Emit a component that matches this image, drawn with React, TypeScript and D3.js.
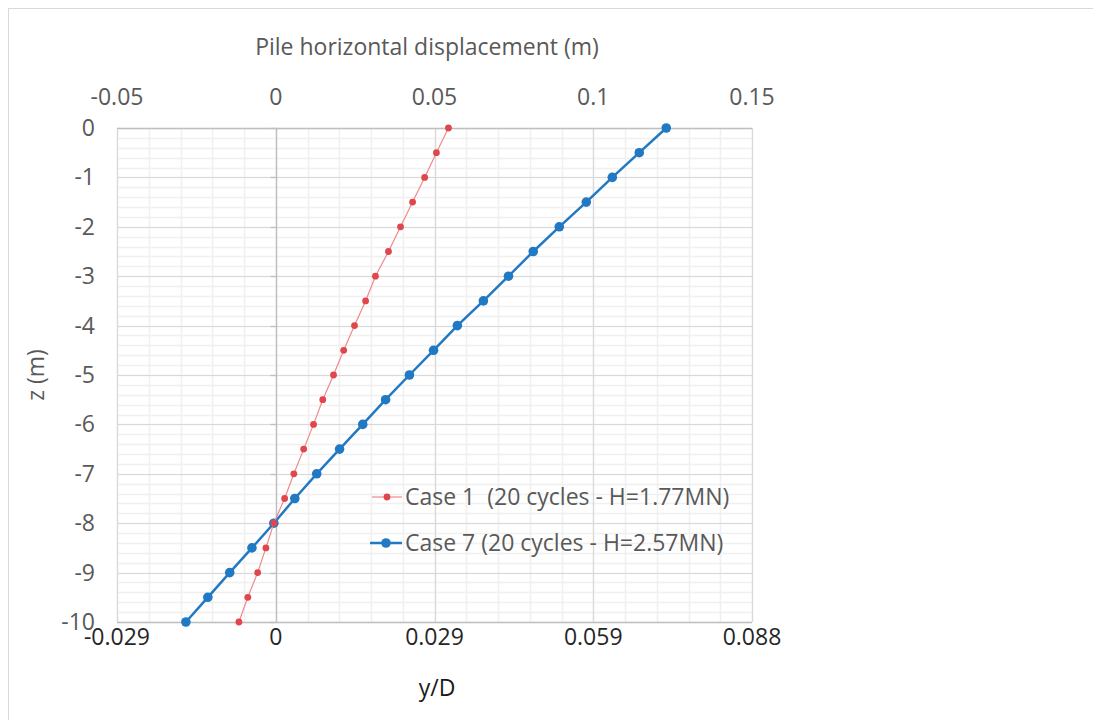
import { useEffect, useRef } from 'react'
import * as d3 from 'd3'

// depth below seabed (m)
const depths = [0, -0.5, -1, -1.5, -2, -2.5, -3, -3.5, -4, -4.5, -5, -5.5, -6, -6.5, -7, -7.5, -8, -8.5, -9, -9.5, -10]

// pile horizontal displacement (m)
const case1Disp = [0.0544, 0.0506, 0.0469, 0.0431, 0.0393, 0.0355, 0.0314, 0.0283, 0.0248, 0.0214, 0.0182,
    0.0148, 0.0119, 0.0088, 0.0057, 0.0028, -0.0006, -0.0031, -0.0057, -0.0088, -0.0116]
const case7Disp = [0.1230, 0.1145, 0.1060, 0.0978, 0.0893, 0.0811, 0.0733, 0.0654, 0.0572, 0.0497, 0.0421,
    0.0346, 0.0274, 0.0201, 0.0129, 0.0060, -0.0006, -0.0075, -0.0145, -0.0214, -0.0283]

const seriesNames = ['Case 1  (20 cycles - H=1.77MN)', 'Case 7 (20 cycles - H=2.57MN)']

const topTicks = [-0.05, 0, 0.05, 0.1, 0.15]
const depthTicks = [0, -1, -2, -3, -4, -5, -6, -7, -8, -9, -10]
const pileDiameter = 1.7

// excel style: plain hyphen for negatives
const fmt = (spec: string) => (v: number) => d3.format(spec)(v).replace('\u2212', '-')

export default function App() {
    const svgRef = useRef<SVGSVGElement>(null)

    useEffect(() => {
        if (!svgRef.current) return
        const svg = d3.select(svgRef.current)
        svg.selectAll('*').remove()

        const width = 1093
        const height = 720
        const margin = { top: 128, right: 341, bottom: 98, left: 117 }
        const font = '"Open Sans", Lato, sans-serif'
        const fs = '23px'

        svg.attr('width', width).attr('height', height)

        svg.append('rect').attr('width', width).attr('height', height).attr('fill', '#fff')
        // outer chart frame (right and bottom edges fall outside the picture)
        svg.append('rect')
            .attr('x', 8.5).attr('y', 8.5)
            .attr('width', width + 20).attr('height', height + 20)
            .attr('fill', 'none').attr('stroke', '#d9d9d9')

        const x = d3.scaleLinear()
            .domain([-0.05, 0.15])
            .range([margin.left, width - margin.right])
        const xD = d3.scaleLinear()
            .domain([-0.05 / pileDiameter, 0.15 / pileDiameter])
            .range([margin.left, width - margin.right])
        const y = d3.scaleLinear()
            .domain([-10, 0])
            .range([height - margin.bottom, margin.top])

        const grid = svg.append('g')
        // minor grid
        const minorX = d3.range(-0.05, 0.1501, 0.01).map(v => +v.toFixed(3))
        const minorY = d3.range(-10, 0.001, 0.2).map(v => +v.toFixed(2))
        grid.selectAll('.minor-x')
            .data(minorX)
            .enter()
            .append('line')
            .attr('x1', d => Math.round(x(d)) + 0.5)
            .attr('x2', d => Math.round(x(d)) + 0.5)
            .attr('y1', y(0)).attr('y2', y(-10))
            .attr('stroke', '#f0f0f0').attr('stroke-width', 1.5)
        grid.selectAll('.minor-y')
            .data(minorY)
            .enter()
            .append('line')
            .attr('x1', x(-0.05)).attr('x2', x(0.15))
            .attr('y1', d => Math.round(y(d)) + 0.5)
            .attr('y2', d => Math.round(y(d)) + 0.5)
            .attr('stroke', '#f0f0f0').attr('stroke-width', 1.5)
        // major grid
        grid.selectAll('.major-x')
            .data(topTicks)
            .enter()
            .append('line')
            .attr('x1', d => Math.round(x(d)) + 0.5)
            .attr('x2', d => Math.round(x(d)) + 0.5)
            .attr('y1', y(0)).attr('y2', y(-10))
            .attr('stroke', '#d9d9d9').attr('stroke-width', 1.2)
        grid.selectAll('.major-y')
            .data(depthTicks)
            .enter()
            .append('line')
            .attr('x1', x(-0.05)).attr('x2', x(0.15))
            .attr('y1', d => Math.round(y(d)) + 0.5)
            .attr('y2', d => Math.round(y(d)) + 0.5)
            .attr('stroke', '#d9d9d9').attr('stroke-width', 1.2)

        // axis lines: top & bottom horizontal axes, vertical axis crossing at 0
        svg.append('line')
            .attr('x1', x(-0.05)).attr('x2', x(0.15))
            .attr('y1', Math.round(y(0)) + 0.5).attr('y2', Math.round(y(0)) + 0.5)
            .attr('stroke', '#bfbfbf').attr('stroke-width', 1.3)
        svg.append('line')
            .attr('x1', x(-0.05)).attr('x2', x(0.15))
            .attr('y1', Math.round(y(-10)) + 0.5).attr('y2', Math.round(y(-10)) + 0.5)
            .attr('stroke', '#bfbfbf').attr('stroke-width', 1.3)
        const zeroX = Math.round(x(0)) + 0.5
        svg.append('line')
            .attr('x1', zeroX).attr('x2', zeroX)
            .attr('y1', y(0)).attr('y2', y(-10))
            .attr('stroke', '#bfbfbf').attr('stroke-width', 1.3)
        svg.selectAll('.ytick-mark')
            .data(depthTicks)
            .enter()
            .append('line')
            .attr('x1', zeroX - 6).attr('x2', zeroX)
            .attr('y1', d => Math.round(y(d)) + 0.5)
            .attr('y2', d => Math.round(y(d)) + 0.5)
            .attr('stroke', '#bfbfbf').attr('stroke-width', 1.3)

        // top axis labels
        svg.selectAll('.top-label')
            .data(topTicks)
            .enter()
            .append('text')
            .attr('x', d => x(d))
            .attr('y', 105)
            .attr('text-anchor', 'middle')
            .attr('font-family', font)
            .attr('font-size', fs)
            .attr('fill', '#595959')
            .text(d => fmt('~g')(d))

        svg.append('text')
            .attr('x', 427)
            .attr('y', 55)
            .attr('text-anchor', 'middle')
            .attr('font-family', font)
            .attr('font-size', fs)
            .attr('fill', '#595959')
            .text('Pile horizontal displacement (m)')

        // bottom axis (y/D)
        const bottomTicks = topTicks.map(d => d / pileDiameter)
        svg.selectAll('.bottom-label')
            .data(bottomTicks)
            .enter()
            .append('text')
            .attr('x', d => xD(d))
            .attr('y', 645)
            .attr('text-anchor', 'middle')
            .attr('font-family', font)
            .attr('font-size', fs)
            .attr('fill', '#262626')
            .text(d => fmt('.3~f')(d))

        svg.append('text')
            .attr('x', 437)
            .attr('y', 696)
            .attr('text-anchor', 'middle')
            .attr('font-family', font)
            .attr('font-size', fs)
            .attr('fill', '#1a1a1a')
            .text('y/D')

        // left labels
        svg.selectAll('.left-label')
            .data(depthTicks)
            .enter()
            .append('text')
            .attr('x', 95)
            .attr('y', d => y(d) + 8)
            .attr('text-anchor', 'end')
            .attr('font-family', font)
            .attr('font-size', fs)
            .attr('fill', '#595959')
            .text(d => fmt('~g')(d))

        svg.append('text')
            .attr('transform', 'translate(44,375) rotate(-90)')
            .attr('text-anchor', 'middle')
            .attr('font-family', font)
            .attr('font-size', fs)
            .attr('fill', '#595959')
            .text('z (m)')

        // series
        const case1 = depths.map((z, i) => ({ z, d: case1Disp[i] }))
        const case7 = depths.map((z, i) => ({ z, d: case7Disp[i] }))
        const line = d3.line<{ z: number; d: number }>()
            .x(p => x(p.d))
            .y(p => y(p.z))

        svg.append('path')
            .datum(case7)
            .attr('fill', 'none')
            .attr('stroke', '#2179c4')
            .attr('stroke-width', 2.5)
            .attr('d', line)
        svg.selectAll('.case7-point')
            .data(case7)
            .enter()
            .append('circle')
            .attr('cx', p => x(p.d))
            .attr('cy', p => y(p.z))
            .attr('r', 4.8)
            .attr('fill', '#2179c4')

        svg.append('path')
            .datum(case1)
            .attr('fill', 'none')
            .attr('stroke', '#f08a8a')
            .attr('stroke-width', 1.2)
            .attr('d', line)
        svg.selectAll('.case1-point')
            .data(case1)
            .enter()
            .append('circle')
            .attr('cx', p => x(p.d))
            .attr('cy', p => y(p.z))
            .attr('r', 3.4)
            .attr('fill', '#e0474c')

        // legend
        const legend = svg.append('g').attr('transform', 'translate(370,497)')
        legend.append('line')
            .attr('x1', 2).attr('x2', 32).attr('y1', 0).attr('y2', 0)
            .attr('stroke', '#f08a8a').attr('stroke-width', 1.2)
        legend.append('circle').attr('cx', 17).attr('cy', 0).attr('r', 3.4).attr('fill', '#e0474c')
        legend.append('text')
            .attr('x', 35).attr('y', 8)
            .attr('font-family', font).attr('font-size', fs).attr('fill', '#595959')
            .attr('xml:space', 'preserve')
            .style('white-space', 'pre')
            .text(seriesNames[0])

        legend.append('line')
            .attr('x1', 0).attr('x2', 32).attr('y1', 46).attr('y2', 46)
            .attr('stroke', '#2179c4').attr('stroke-width', 2.5)
        legend.append('circle').attr('cx', 16).attr('cy', 46).attr('r', 4.8).attr('fill', '#2179c4')
        legend.append('text')
            .attr('x', 35).attr('y', 54)
            .attr('font-family', font).attr('font-size', fs).attr('fill', '#595959')
            .text(seriesNames[1])
    }, [])

    return (
        <div style={{ position: 'absolute', left: 0, top: 0 }}>
            <svg ref={svgRef} style={{ display: 'block' }} />
        </div>
    )
}
